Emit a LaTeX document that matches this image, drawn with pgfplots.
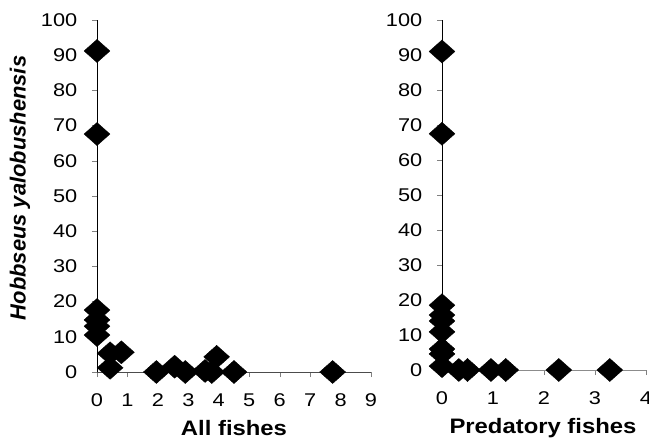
\documentclass[border=0pt]{standalone}
\usepackage{pgfplots}
\pgfplotsset{compat=1.18}
\usepackage{fontspec}
\setmainfont{Liberation Sans}

\pgfplotsset{
  fishaxis/.style={
    scale only axis,
    anchor=origin,
    axis x line=bottom, axis y line=left,
    axis line style={-},
    y axis line style={black, line width=0.9bp},
    tick align=outside,
    major tick length=5bp,
    ymin=0, ymax=100, ytick={0,10,...,100},
    xmin=0,
    enlargelimits=false,
    clip=false,
    tick label style={font=\fontsize{18.5}{18.5}\selectfont, xscale=1.18},
    /pgf/number format/assume math mode=true,
    xticklabel style={yshift=-13bp},
    yticklabel style={xshift=-9bp},
    xlabel style={font=\bfseries\fontsize{21}{21}\selectfont, xscale=1.14,
      at={(axis description cs:0.5,-0.159)}, anchor=center},
  },
  fishmark/.style={only marks, mark=diamond*, color=black,
    mark size=11.5bp, mark options={xscale=1.5, fill=black, draw=black}},
}

\begin{document}
\begin{tikzpicture}
\useasboundingbox (0,0) rectangle (649bp,440bp);

% left panel: all fishes
\begin{axis}[fishaxis,
  at={(97bp,68bp)}, width=274bp, height=352bp,
  xmax=9, xtick={0,1,...,9},
  x axis line style={black!70, line width=0.9bp},
  xlabel={All fishes},
  ylabel={\textbf{\textit{Hobbseus yalobushensis}}},
  ylabel style={font=\fontsize{22}{22}\selectfont,
    at={(axis description cs:-0.281,0.523)}, anchor=center},
]
\addplot[fishmark] coordinates {
  (0,91.2) (0,67.6) (0,17.6) (0,14.8) (0,13) (0,10.5)
  (0.43,5.3) (0.8,5.6) (0.43,1.2)
  (1.95,0) (2.55,1.5) (2.9,0) (3.55,0.3) (3.77,0) (3.93,4.3)
  (4.5,0) (7.74,0)
};
\end{axis}

% right panel: predatory fishes
\begin{axis}[fishaxis,
  at={(442bp,70bp)}, width=204bp, height=350bp,
  xmax=4, xtick={0,1,...,4},
  x axis line style={black!45, line width=0.9bp},
  xlabel={Predatory fishes},
  xlabel style={at={(axis description cs:0.495,-0.166)}},
]
\addplot[fishmark] coordinates {
  (0,91) (0,67.5) (0,18.5) (0,15.7) (0,14) (0,10.9) (0,6) (0,4.6) (0,1.1)
  (0.33,0) (0.5,0) (0.96,0) (1.25,0) (2.29,0) (3.29,0)
};
\end{axis}
\end{tikzpicture}
\end{document}
